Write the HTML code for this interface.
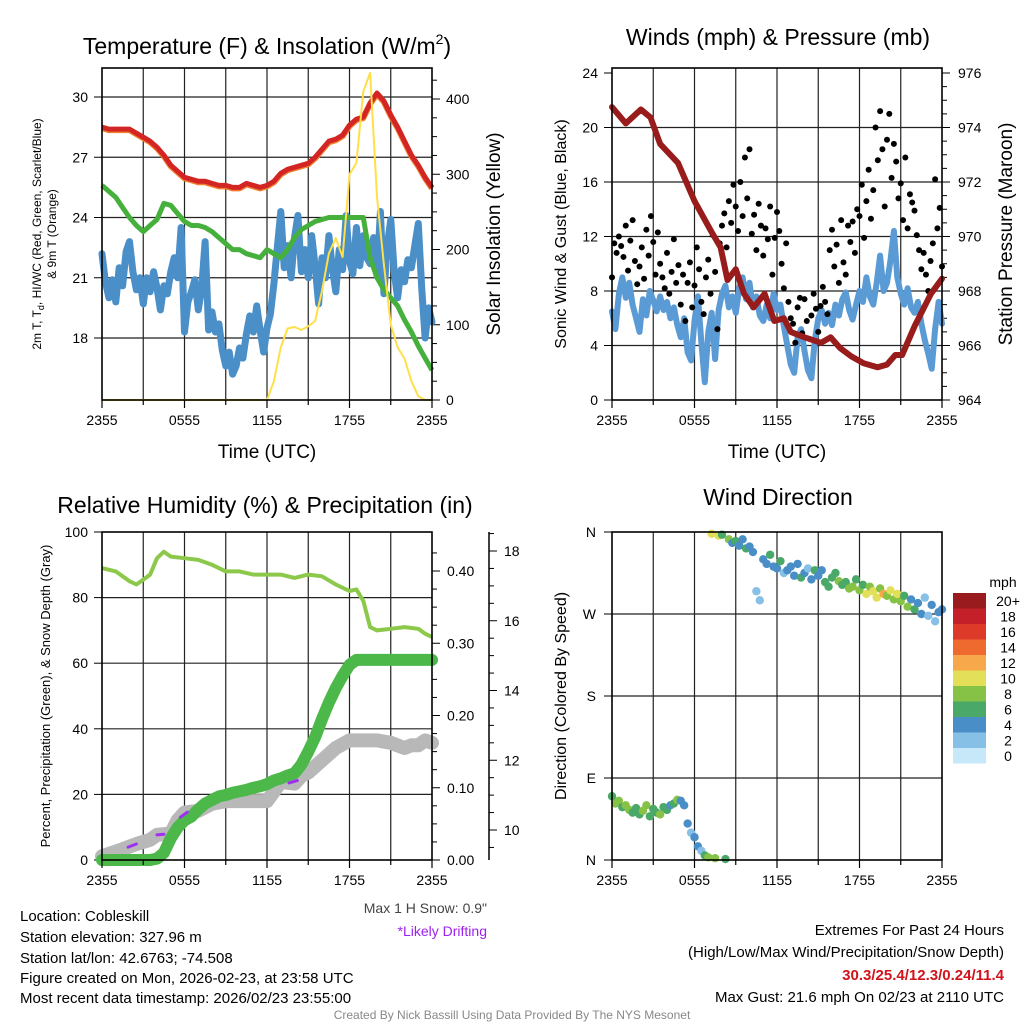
<!DOCTYPE html>
<html><head><meta charset="utf-8"><style>
html,body{margin:0;padding:0;background:#fff;}
svg{display:block;font-family:"Liberation Sans",sans-serif;}
</style></head><body>
<svg id="chart" width="1024" height="1024" viewBox="0 0 1024 1024" xmlns="http://www.w3.org/2000/svg">
<rect width="1024" height="1024" fill="#fff"/>
<g id="layer"></g>
<text x="267" y="54" font-size="23" text-anchor="middle">Temperature (F) &amp; Insolation (W/m<tspan font-size="14" dy="-10">2</tspan><tspan dy="10">)</tspan></text>
<text x="778" y="45" font-size="23" text-anchor="middle">Winds (mph) &amp; Pressure (mb)</text>
<text x="265" y="513" font-size="23" text-anchor="middle">Relative Humidity (%) &amp; Precipitation (in)</text>
<text x="778" y="505" font-size="23" text-anchor="middle">Wind Direction</text>
<text x="267" y="458" font-size="19" text-anchor="middle">Time (UTC)</text>
<text x="777" y="458" font-size="19" text-anchor="middle">Time (UTC)</text>
<text transform="translate(41,234) rotate(-90)" font-size="12" text-anchor="middle">2m T, T<tspan font-size="9" dy="3">d</tspan><tspan dy="-3">, HI/WC (Red, Green, Scarlet/Blue)</tspan></text>
<text transform="translate(56,234) rotate(-90)" font-size="12" text-anchor="middle">&amp; 9m T (Orange)</text>
<text transform="translate(500,234) rotate(-90)" font-size="19" text-anchor="middle">Solar Insolation (Yellow)</text>
<text transform="translate(566,234) rotate(-90)" font-size="16" text-anchor="middle">Sonic Wind &amp; Gust (Blue, Black)</text>
<text transform="translate(1012,234) rotate(-90)" font-size="19" text-anchor="middle">Station Pressure (Maroon)</text>
<text transform="translate(50,696) rotate(-90)" font-size="13" text-anchor="middle">Percent, Precipitation (Green), &amp; Snow Depth (Gray)</text>
<text transform="translate(566,696) rotate(-90)" font-size="16" text-anchor="middle">Direction (Colored By Speed)</text>
<text x="487" y="913" font-size="14" text-anchor="end" fill="#444">Max 1 H Snow: 0.9"</text>
<text x="487" y="936" font-size="14" text-anchor="end" fill="#a020f0">*Likely Drifting</text>
<g font-size="15">
<text x="20" y="921">Location: Cobleskill</text>
<text x="20" y="942">Station elevation: 327.96 m</text>
<text x="20" y="963">Station lat/lon: 42.6763; -74.508</text>
<text x="20" y="983">Figure created on Mon, 2026-02-23, at 23:58 UTC</text>
<text x="20" y="1003">Most recent data timestamp: 2026/02/23 23:55:00</text>
</g>
<g font-size="15" text-anchor="end">
<text x="1004" y="935">Extremes For Past 24 Hours</text>
<text x="1004" y="957">(High/Low/Max Wind/Precipitation/Snow Depth)</text>
<text x="1004" y="980" fill="#d0141c" font-weight="bold">30.3/25.4/12.3/0.24/11.4</text>
<text x="1004" y="1002">Max Gust: 21.6 mph On 02/23 at 2110 UTC</text>
</g>
<text x="512" y="1019" font-size="12" text-anchor="middle" fill="#888">Created By Nick Bassill Using Data Provided By The NYS Mesonet</text>
<text x="1003" y="587" font-size="14" text-anchor="middle">mph</text>
</svg>
<script>
// ---- data ----
const halfHours = [0,0.5,1,1.5,2,2.5,3,3.5,4,4.5,5,5.5,6,6.5,7,7.5,8,8.5,9,9.5,10,10.5,11,11.5,12,12.5,13,13.5,14,14.5,15,15.5,16,16.5,17,17.5,18,18.5,19,19.5,20,20.5,21,21.5,22,22.5,23,23.5,24];
const tempRed = [28.5,28.4,28.4,28.4,28.4,28.2,28.0,27.8,27.5,27.1,26.6,26.3,26.0,25.9,25.8,25.8,25.7,25.6,25.6,25.5,25.5,25.7,25.6,25.5,25.6,25.8,26.2,26.4,26.5,26.6,26.7,27.0,27.4,27.8,27.9,28.1,28.6,28.9,29.0,29.7,30.2,29.8,29.1,28.5,27.8,27.1,26.6,26.0,25.5];
const tempGreen = [25.6,25.3,25.0,24.5,24.0,23.6,23.3,23.6,23.9,24.7,24.6,24.2,23.8,23.6,23.6,23.5,23.3,23.0,22.7,22.4,22.4,22.2,22.1,22.0,22.4,22.2,22.0,22.4,23.0,23.4,23.6,23.8,23.9,24.0,24.0,24.0,24.0,24.0,24.0,22.0,21.0,20.4,20.0,19.6,18.9,18.3,17.6,17.0,16.4];
const solar = [0,0,0,0,0,0,0,0,0,0,0,0,0,0,0,0,0,0,0,0,0,0,0,0,0,25,70,95,97,93,98,105,145,195,215,190,300,315,410,435,270,180,100,70,55,25,5,0,0];
const wcVals = [22.2,20.8,20.0,20.9,19.8,21.5,20.6,22.3,22.8,21.3,20.4,21.0,19.7,21.0,20.3,21.3,20.5,19.4,20.6,20.2,21.3,22.0,21.0,23.5,18.3,19.8,20.3,20.9,19.4,20.5,22.8,18.4,19.3,18.3,18.7,17.4,16.6,17.3,16.2,16.6,17.5,17.0,18.2,19.1,18.3,19.6,18.4,17.3,18.5,19.2,20.7,22.5,24.3,21.5,22.6,21.0,23.0,24.1,21.3,22.4,21.0,23.1,21.6,19.7,22.0,21.0,23.1,21.5,20.3,22.4,21.4,24.1,21.8,21.2,23.5,21.6,23.1,22.0,21.7,23.0,21.1,24.3,20.2,22.6,23.9,21.3,20.0,21.4,20.8,21.9,21.5,22.6,23.7,20.5,18.0,19.5,18.8];
const windVals = [6.5,5.2,7.8,9.0,7.5,8.6,7.0,6.0,5.0,7.4,6.2,8.0,7.3,6.5,7.6,6.6,7.2,6.0,6.8,5.5,4.6,6.0,3.5,2.9,5.8,7.6,4.2,1.3,5.0,6.4,3.0,6.6,7.8,8.4,6.8,7.6,6.4,8.2,9.0,7.4,8.6,6.8,7.6,6.2,5.8,7.0,6.0,7.8,6.6,7.0,5.4,4.0,2.6,2.0,4.6,5.2,3.6,2.2,1.6,4.4,6.0,6.6,5.6,6.4,5.5,7.0,6.2,7.4,7.9,6.6,5.9,7.0,8.0,7.2,9.0,7.6,7.0,8.6,10.6,8.0,8.6,10.2,12.4,9.0,7.8,7.0,8.2,6.8,6.4,7.2,5.6,4.4,3.4,2.3,5.2,7.2,5.6];
const presHours = [0,1.0,2.1,2.8,3.5,4.8,6.0,7.2,7.9,8.4,9.0,9.6,10.3,11.1,11.8,12.5,13.0,14.0,15.2,15.9,16.6,17.4,18.3,19.3,20.0,20.6,21.1,22.0,23.2,24];
const presVals = [974.75,974.15,974.66,974.37,973.4,972.7,971.3,970.2,969.6,968.4,968.8,967.9,967.4,967.9,966.9,967.0,966.5,966.3,966.1,966.3,965.9,965.6,965.35,965.2,965.3,965.65,965.65,966.7,967.9,968.45];
const gustVals = [9,11.5,10.8,12,11.3,10.5, 12.8,9.5,11.7,13.2,10.2,8.5, 9.8,11.2,8.9,12.5,10.6,13.5, 11.6,9.2,12.3,10.0,9.0,8.2, 10.8,7.8,9.4,11.8,8.6,9.9, 7.0,9.2,5.8,8.6,10.1,6.8, 8.4,11.2,9.6,7.2,6.3,9.0, 10.3,7.8,12.1,9.4,5.2,11.5, 12.8,13.7,11.2,14.6,13.0,15.8, 14.2,12.4,16.0,13.5,17.8,14.8, 18.4,12.2,13.6,11.0,14.4,12.8, 10.6,12.6,11.8,14.2,9.2,11.9, 13.8,12.4,10.0,8.2,11.5,7.2, 6.0,5.6,4.2,6.8,7.5,4.9, 7.4,5.8,4.5,6.2,7.8,6.7, 5.0,6.9,8.3,7.2,6.3,11.0, 12.5,9.8,11.4,8.6,13.2,10.1, 9.2,12.8,11.6,13.1,10.8,14.0, 13.5,15.8,11.9,14.6,16.9,13.3, 15.4,20.0,17.6,21.2,18.4,14.2, 19.1,21.0,16.3,18.8,17.5,14.8, 15.9,13.2,17.8,12.6,15.1,14.5, 13.9,12.1,11.0,9.6,10.8,9.2, 8.0,10.2,11.5,16.2,12.6,14.1, 9.8];
const rhHours = [0,1,2,2.5,3,3.5,4,4.5,5,6,7,8,9,10,11,12,13,14,15,16,17,18,18.5,19,19.5,20,21,22,23,23.5,24];
const rhVals = [89,88,85,84,85.5,87,92,94,92.5,92,91.5,90,88,88,87,87,87,86,87,86.5,84,82,82.5,79,71,70,70.5,71,70.5,69,68];
const precipVals = [0,0,0,0,0,0,0,0,0.002,0.01,0.03,0.045,0.055,0.06,0.07,0.078,0.083,0.088,0.09,0.093,0.095,0.097,0.1,0.102,0.105,0.11,0.113,0.117,0.12,0.132,0.15,0.17,0.195,0.218,0.238,0.255,0.27,0.277,0.277,0.277,0.277,0.277,0.277,0.277,0.277,0.277,0.277,0.277,0.277];
const snowHours = [0,1.5,2.5,3.5,4,5,5.5,6,7,8,9,10,11,12,12.5,13,14,14.5,15,16,17,18,19,20,21,22,22.5,23,23.5,24];
const snowVals = [9.25,9.45,9.6,9.72,9.86,9.9,10.28,10.5,10.55,10.75,10.83,10.83,10.83,10.83,11.1,11.38,11.33,11.55,11.65,12.0,12.35,12.57,12.57,12.57,12.5,12.35,12.43,12.43,12.57,12.5];
const driftStarts = [1.9,4.0,5.7,13.6];
const driftEnds = [2.5,4.5,6.2,14.2];
const dirVals = [70,62,65,58, 60,55,52,57, 50,54,60,48, 56,52,50,58, 55,60,62,66, 65,60,40,30, 25,15,10,5, 3,358,2,356, 357,1,352,348, 350,345,352,342, 344,338,295,285, 330,325,335,322, 320,328,315,318, 322,312,325,310, 315,320,308,318, 312,318,305,300, 310,315,306,302, 305,298,300,308, 296,302,292,300, 295,288,298,292, 290,296,286,292, 284,290,278,286, 275,282,270,288, 268,280,262,272, 275];
const dirSpeeds = [7,8,9,7, 8,9,7,6, 7,9,8,6, 7,6,8,7, 6,5,7,8, 5,4,4,3, 4,5,3,6, 8,10,9,10, 7,6,8,5, 6,4,5,7, 4,5,3,2, 5,4,6,5, 4,6,3,5, 4,5,4,6, 5,3,4,6, 5,4,7,6, 6,7,8,6, 7,9,8,6, 8,7,10,9, 10,11,9,12, 9,11,8,10, 8,7,9,5, 6,4,5,3, 3,4,2,5, 4];
const cbLabels = ["20+","18","16","14","12","10","8","6","4","2","0"];
const cbColors = ["#9a1b1e","#c4202a","#dd3a2a","#ef6a2e","#f6a84a","#e4df58","#86c246","#4aa868","#4a8ec8","#86c0e6","#c6e8f8"];
const xTickLabels = ["2355","0555","1155","1755","2355"];
const tempTicks = [18,21,24,27,30];
const solarTicks = [0,100,200,300,400];
const windTicks = [0,4,8,12,16,20,24];
const presTicks = [964,966,968,970,972,974,976];
const rhTicks = [0,20,40,60,80,100];
const precipTicks = [0,0.1,0.2,0.3,0.4];
const snowTicks = [10,12,14,16,18];
const dirTicks = [0,90,180,270,360];
const dirTickLabels = ["N","E","S","W","N"];

// ---- helpers ----
const NS="http://www.w3.org/2000/svg";
const layer=document.getElementById('layer');
function mk(tag,attrs,parent){const e=document.createElementNS(NS,tag);for(const k in attrs)e.setAttribute(k,attrs[k]);(parent||layer).appendChild(e);return e;}
function lin(d0,d1,r0,r1){return v=>r0+(v-d0)*(r1-r0)/(d1-d0);}
function pathD(xs,ys,fx,fy){return xs.map((x,i)=>(i?'L':'M')+fx(x).toFixed(1)+','+fy(ys[i]).toFixed(1)).join('');}
function pathQ(ys,fx,fy){return ys.map((y,i)=>(i?'L':'M')+fx(i/4).toFixed(1)+','+fy(y).toFixed(1)).join('');}

function frame(name){
  const g=mk('g',{});
  
  
  return g;
}
function drawBox(g,L,T,R,B){mk('rect',{x:L,y:T,width:R-L,height:B-T,fill:'none',stroke:'#000','stroke-width':1.6},g);}
function vgrid(g,fx,T,B){for(let h=3;h<24;h+=3){mk('line',{x1:fx(h),x2:fx(h),y1:T,y2:B,stroke:'#222','stroke-width':1.2},g);}}
function xticks(g,fx,B){
  for(let h=0;h<=24;h+=3){mk('line',{x1:fx(h),x2:fx(h),y1:B,y2:B+(h%6===0?8:5),stroke:'#000','stroke-width':1.2},g);}
  xTickLabels.forEach((t,i)=>{const tx=mk('text',{x:fx(i*6),y:B+25,'font-size':14,'text-anchor':'middle'},g);tx.textContent=t;});
}

// ---- Panel 1: temperature ----
{
  const L=102,T=68,R=432,B=400;
  const fx=lin(0,24,L,R), fy=lin(30,18,97,338), fs=lin(0,400,400,99);
  const g=frame('temperature-panel');
  vgrid(g,fx,T,B);
  tempTicks.forEach(v=>{mk('line',{x1:L,x2:R,y1:fy(v),y2:fy(v),stroke:'#222','stroke-width':1.2},g);
    mk('line',{x1:L-8,x2:L,y1:fy(v),y2:fy(v),stroke:'#000'},g);
    const t=mk('text',{x:L-14,y:fy(v)+5,'font-size':14,'text-anchor':'end'},g);t.textContent=v;});
  for(let v=0;v<=440;v+=25){mk('line',{x1:R,x2:R+(v%100===0?8:5),y1:fs(v),y2:fs(v),stroke:'#000'},g);}
  solarTicks.forEach(v=>{const t=mk('text',{x:R+14,y:fs(v)+5,'font-size':14},g);t.textContent=v;});
  const wc=mk('path',{d:pathQ(wcVals,fx,fy),fill:'none',stroke:'#4a8fc8','stroke-width':7,'stroke-linejoin':'round','stroke-linecap':'round'},g);
  
  
  const gr=mk('path',{d:pathD(halfHours,tempGreen,fx,fy),fill:'none',stroke:'#46b03c','stroke-width':5,'stroke-linejoin':'round'},g);
  
  
  mk('path',{d:pathD(halfHours,tempRed,fx,v=>fy(v)+1),fill:'none',stroke:'#f08030','stroke-width':6,'stroke-linejoin':'round'},g);
  const rd=mk('path',{d:pathD(halfHours,tempRed,fx,fy),fill:'none',stroke:'#d42525','stroke-width':5,'stroke-linejoin':'round'},g);
  
  
  const yl=mk('path',{d:pathD(halfHours,solar,fx,fs),fill:'none',stroke:'#ffdf4a','stroke-width':2,'stroke-linejoin':'round'},g);
  
  
  drawBox(g,L,T,R,B); xticks(g,fx,B);
}

// ---- Panel 2: winds ----
{
  const L=612,T=68,R=942,B=400;
  const fx=lin(0,24,L,R), fy=lin(0,24,400,73), fp=lin(964,976,400,73);
  const g=frame('wind-panel');
  vgrid(g,fx,T,B);
  windTicks.forEach(v=>{if(v>0&&v<24)mk('line',{x1:L,x2:R,y1:fy(v),y2:fy(v),stroke:'#222','stroke-width':1.2},g);
    mk('line',{x1:L-8,x2:L,y1:fy(v),y2:fy(v),stroke:'#000'},g);
    const t=mk('text',{x:L-14,y:fy(v)+5,'font-size':14,'text-anchor':'end'},g);t.textContent=v;});
  for(let v=964;v<=976.2;v+=0.5){mk('line',{x1:R,x2:R+(Math.abs(v%2)<0.01?8:5),y1:fp(v),y2:fp(v),stroke:'#000'},g);}
  presTicks.forEach(v=>{const t=mk('text',{x:R+16,y:fp(v)+5,'font-size':14},g);t.textContent=v;});
  const wl=mk('path',{d:pathQ(windVals,fx,fy),fill:'none',stroke:'#5b9bd5','stroke-width':6,'stroke-linejoin':'round','stroke-linecap':'round'},g);
  
  
  gustVals.forEach((v,i)=>{const c=mk('circle',{cx:fx(i/6),cy:fy(v),r:3,fill:'#000'},g);
    
    });
  const pl=mk('path',{d:pathD(presHours,presVals,fx,fp),fill:'none',stroke:'#991c1c','stroke-width':6,'stroke-linejoin':'round','stroke-linecap':'round'},g);
  
  
  drawBox(g,L,T,R,B); xticks(g,fx,B);
}

// ---- Panel 3: RH / precip ----
{
  const L=102,T=532,R=432,B=860;
  const fx=lin(0,24,L,R), fy=lin(0,100,860,532), fp=lin(0,0.4,860,571), fsn=lin(10,18,830,551);
  const g=frame('humidity-panel');
  vgrid(g,fx,T,B);
  rhTicks.forEach(v=>{if(v>0&&v<100)mk('line',{x1:L,x2:R,y1:fy(v),y2:fy(v),stroke:'#222','stroke-width':1.2},g);
    mk('line',{x1:L-8,x2:L,y1:fy(v),y2:fy(v),stroke:'#000'},g);
    const t=mk('text',{x:L-14,y:fy(v)+5,'font-size':14,'text-anchor':'end'},g);t.textContent=v;});
  for(let v=0;v<=0.45;v+=0.025){mk('line',{x1:R,x2:R+(Math.round(v*40)%4===0?8:5),y1:fp(v),y2:fp(v),stroke:'#000'},g);}
  precipTicks.forEach(v=>{const t=mk('text',{x:R+15,y:fp(v)+5,'font-size':14},g);t.textContent=v.toFixed(2);});
  mk('line',{x1:489,x2:489,y1:T,y2:B,stroke:'#000','stroke-width':1.5},g);
  for(let v=9.5;v<=19;v+=0.5){const y=fsn(v);if(y>=T&&y<=B)mk('line',{x1:489,x2:489+(v%2===0?8:5),y1:y,y2:y,stroke:'#000'},g);}
  snowTicks.forEach(v=>{const t=mk('text',{x:504,y:fsn(v)+5,'font-size':14},g);t.textContent=v;});
  const sn=mk('path',{d:pathD(snowHours,snowVals,fx,fsn),fill:'none',stroke:'#b8b8b8','stroke-width':14,'stroke-linejoin':'round','stroke-linecap':'round'},g);
  
  
  const pr=mk('path',{d:pathD(halfHours,precipVals,fx,fp),fill:'none',stroke:'#4cb84a','stroke-width':12,'stroke-linejoin':'round','stroke-linecap':'round'},g);
  
  
  driftStarts.forEach((s,i)=>{
    const hs=[s,driftEnds[i]];
    const vs=hs.map(h=>{let j=0;while(j<snowHours.length-1&&snowHours[j+1]<h)j++;const a=snowHours[j],b=snowHours[j+1];return snowVals[j]+(snowVals[j+1]-snowVals[j])*(h-a)/(b-a);});
    const d=mk('path',{d:pathD(hs,vs,fx,fsn),fill:'none',stroke:'#a030f0','stroke-width':3,'stroke-linecap':'round'},g);
    
    
  });
  const rh=mk('path',{d:pathD(rhHours,rhVals,fx,fy),fill:'none',stroke:'#8cc84a','stroke-width':4,'stroke-linejoin':'round'},g);
  
  
  drawBox(g,L,T,R,B); xticks(g,fx,B);
}

// ---- Panel 4: wind direction ----
{
  const L=612,T=532,R=942,B=860;
  const fx=lin(0,24,L,R), fy=lin(0,360,860,532);
  const g=frame('direction-panel');
  vgrid(g,fx,T,B);
  dirTicks.forEach((v,i)=>{if(v>0&&v<360)mk('line',{x1:L,x2:R,y1:fy(v),y2:fy(v),stroke:'#222','stroke-width':1.2},g);
    mk('line',{x1:L-8,x2:L,y1:fy(v),y2:fy(v),stroke:'#000'},g);
    const t=mk('text',{x:L-16,y:fy(v)+5,'font-size':14,'text-anchor':'end'},g);t.textContent=dirTickLabels[i];});
  dirVals.forEach((v,i)=>{
    const s=dirSpeeds[i];const idx=10-Math.min(10,Math.floor(s/2));
    const c=mk('circle',{cx:fx(i/4),cy:fy(v),r:4.2,fill:cbColors[idx]},g);
    
    
  });
  drawBox(g,L,T,R,B); xticks(g,fx,B);
  cbLabels.forEach((lab,i)=>{
    const y=593+i*15.5;
    const r=mk('rect',{x:953,y:y,width:33,height:15.5,fill:cbColors[i]},g);
    
    
    const t=mk('text',{x:1008,y:y+13,'font-size':14,'text-anchor':'middle'},g);t.textContent=lab;
  });
}
</script>
</body></html>
